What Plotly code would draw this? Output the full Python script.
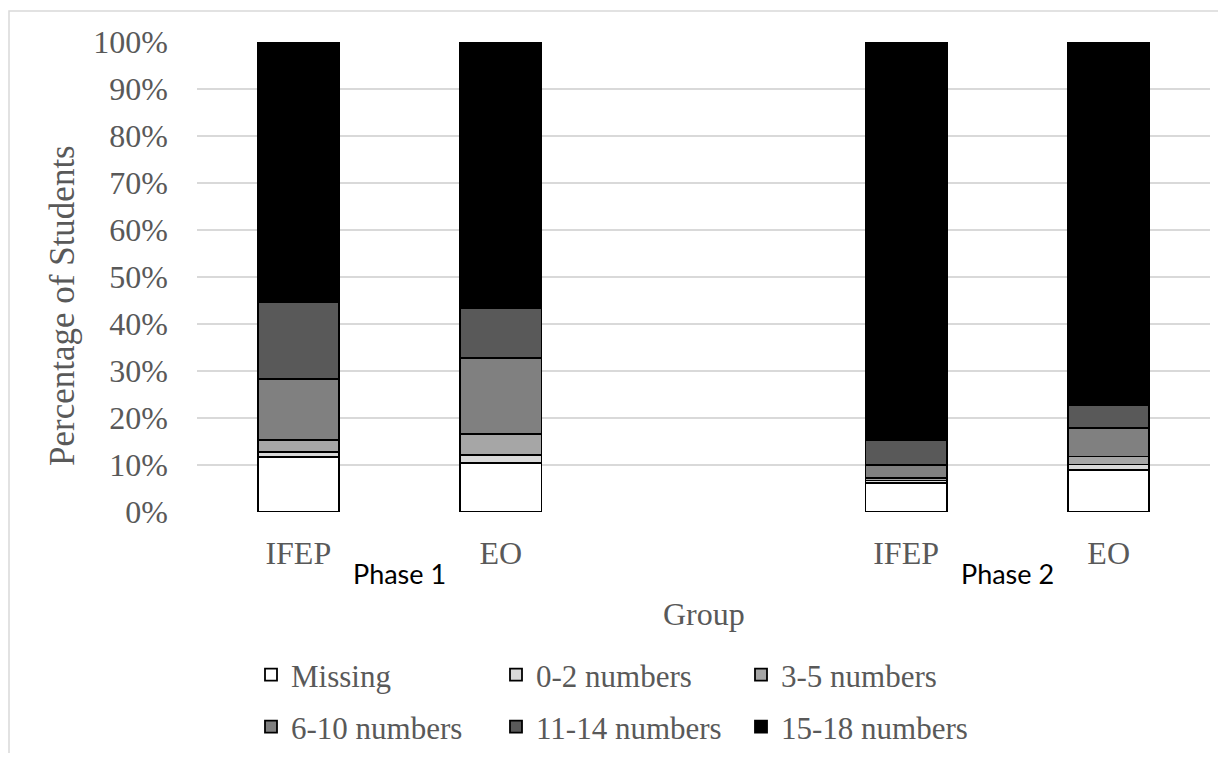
import plotly.graph_objects as go

groups = ["IFEP", "EO", "IFEP", "EO"]
phase_labels = ["Phase 1", "Phase 2"]
series_names = ["Missing", "0-2 numbers", "3-5 numbers", "6-10 numbers", "11-14 numbers", "15-18 numbers"]
missing = [11.7, 10.4, 6.2, 8.9]
n0_2 = [1.0, 1.7, 0.5, 1.2]
n3_5 = [2.7, 4.5, 0.6, 1.7]
n6_10 = [12.9, 16.2, 2.7, 6.1]
n11_14 = [16.3, 10.5, 5.3, 4.9]
n15_18 = [55.4, 56.7, 84.7, 77.2]
y_ticks = [0, 10, 20, 30, 40, 50, 60, 70, 80, 90, 100]
y_ticktext = ["0%", "10%", "20%", "30%", "40%", "50%", "60%", "70%", "80%", "90%", "100%"]

series_values = [missing, n0_2, n3_5, n6_10, n11_14, n15_18]
colors = ["#FFFFFF", "#D9D9D9", "#A6A6A6", "#808080", "#595959", "#000000"]

# slots: IFEP, EO, (gap), IFEP, EO
xpos = [0, 1, 3, 4]

OFF = 8  # page body margin
W, H = 1226 - 2 * OFF, 761 - 2 * OFF
L, T = 197 - OFF, 42 - OFF
R = W - (1210 - OFF)
B = H - (512 - OFF)
pw, ph = W - L - R, H - T - B

def px_x(p):
    return (p - OFF - L) / pw

def px_y(p):
    return (H - B - (p - OFF)) / ph

serif = "Liberation Serif, Times New Roman, serif"
gray = "#595959"

fig = go.Figure()
for i, (name, vals, col) in enumerate(zip(series_names, series_values, colors)):
    fig.add_trace(go.Bar(
        x=xpos, y=vals, name=name, width=0.4,
        marker=dict(color=col, line=dict(color="#000000", width=1.8)),
        legend="legend" if i < 3 else "legend2",
        hoverinfo="skip",
    ))

leg_common = dict(orientation="h", xanchor="left", yanchor="middle",
                  entrywidth=200, entrywidthmode="pixels",
                  font=dict(family=serif, size=31, color=gray),
                  bgcolor="rgba(0,0,0,0)", traceorder="normal")

fig.update_layout(
    width=W, height=H,
    margin=dict(l=L, r=R, t=T, b=B, autoexpand=False),
    barmode="stack",
    plot_bgcolor="white", paper_bgcolor="white",
    font=dict(family=serif, size=31, color=gray),
    showlegend=True,
    legend=dict(x=px_x(251), y=px_y(675), **leg_common),
    legend2=dict(x=px_x(251), y=px_y(727), **leg_common),
    xaxis=dict(range=[-0.5, 4.5], tickvals=xpos, ticktext=groups, showgrid=False,
               zeroline=False, showline=False, ticks="", ticklabelstandoff=19,
               tickfont=dict(family=serif, size=32, color=gray), fixedrange=True),
    yaxis=dict(range=[0, 100], tickvals=y_ticks, ticktext=y_ticktext, showgrid=True,
               gridcolor="#D9D9D9", gridwidth=1.5, zeroline=False, showline=False,
               ticks="", ticklabelstandoff=28,
               tickfont=dict(family=serif, size=32, color=gray), fixedrange=True),
)

annotations = [
    dict(text="Percentage of Students", x=px_x(63), y=px_y(306), xref="paper", yref="paper",
         showarrow=False, textangle=-90, font=dict(family=serif, size=35, color=gray),
         xanchor="center", yanchor="middle"),
    dict(text="Group", x=0.5, y=px_y(614), xref="paper", yref="paper", showarrow=False,
         font=dict(family=serif, size=32, color=gray), xanchor="center", yanchor="middle"),
]
for lbl, xc in zip(phase_labels, [0.5, 3.5]):
    annotations.append(dict(text=lbl, x=xc, y=px_y(573), xref="x", yref="paper", showarrow=False,
                            font=dict(family="Lato, Liberation Sans, sans-serif", size=27, color="#000000"),
                            xanchor="center", yanchor="middle"))
fig.update_layout(annotations=annotations)

fig.add_shape(type="rect", xref="paper", yref="paper",
              x0=px_x(9), x1=px_x(1260), y0=px_y(800), y1=px_y(11),
              line=dict(color="#D9D9D9", width=1.5), fillcolor="rgba(0,0,0,0)", layer="below")

fig.write_html("out.html")
